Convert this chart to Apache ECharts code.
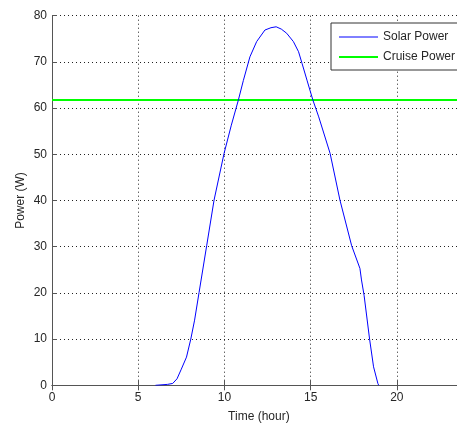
<!DOCTYPE html>
<html>
<head>
<meta charset="utf-8">
<script src="https://cdn.jsdelivr.net/npm/echarts@6/dist/echarts.min.js"></script>
<style>
  html, body { margin: 0; padding: 0; background: #fff; }
  #chart { width: 457px; height: 427px; }
</style>
</head>
<body>
<div id="chart"></div>
<script>
// Hours of the day (x) and solar panel output in watts (y)
const solarHours = [6.0, 6.7, 7.0, 7.25, 7.5, 7.8, 8.05, 8.27, 8.53, 8.97, 9.4, 9.98, 10.4, 10.81,
  11.1, 11.48, 11.87, 12.35, 12.7, 13.0, 13.3, 13.61, 14.0, 14.3, 14.5, 14.8, 15.13, 15.47,
  16.13, 16.7, 17.38, 17.86, 17.95, 18.1, 18.42, 18.65, 18.9, 18.95];
const solarPower = [0, 0.2, 0.4, 1.4, 3.5, 6.1, 10.0, 14.1, 20.1, 30.2, 40.1, 50.2, 56.3, 61.75,
  66.0, 71.1, 74.4, 76.9, 77.4, 77.6, 77.1, 76.2, 74.4, 72.2, 69.7, 65.9, 61.75, 58.1,
  50.2, 40.1, 30.2, 25.3, 22.8, 19.5, 10.0, 4.0, 0.4, 0];

// Constant power needed for cruise flight
const cruisePower = 61.75;
const dayRange = [0, 24];

const xTicks = [0, 5, 10, 15, 20];
const yTicks = [0, 10, 20, 30, 40, 50, 60, 70, 80];

const textColor = '#262626';
const axisColor = '#555';
const font = 'Liberation Sans, Arial, sans-serif';

const chart = echarts.init(document.getElementById('chart'), null, { renderer: 'canvas' });

const gridDots = { show: true, lineStyle: { color: '#222', width: 1, type: [1, 3] } };

chart.setOption({
  animation: false,
  backgroundColor: '#fff',
  // the right edge of the axes box runs past the page edge
  grid: { left: 52, top: 15.7, width: 413.8, height: 369.6, containLabel: false, outerBoundsMode: 'none' },
  legend: {
    orient: 'vertical',
    left: 331,
    top: 23,
    padding: [7, 40, 6, 7],
    itemGap: 6,
    itemWidth: 39,
    itemHeight: 14,
    backgroundColor: '#fff',
    borderColor: '#333',
    borderWidth: 1,
    itemStyle: { color: 'rgba(0,0,0,0)', borderWidth: 0, opacity: 0 },
    textStyle: { fontFamily: font, fontSize: 12, color: textColor, lineHeight: 14 },
    data: [
      { name: 'Solar Power', lineStyle: { width: 1 } },
      { name: 'Cruise Power', lineStyle: { width: 2 } }
    ]
  },
  xAxis: [{
    type: 'value',
    min: dayRange[0], max: dayRange[1], interval: 5,
    name: 'Time (hour)',
    nameLocation: 'middle',
    nameGap: 25,
    nameTextStyle: { fontFamily: font, fontSize: 12, color: textColor },
    axisLine: { show: true, onZero: false, lineStyle: { color: axisColor, width: 1 } },
    axisTick: { show: true, inside: true, length: 5, lineStyle: { color: axisColor } },
    axisLabel: {
      fontFamily: font, fontSize: 12, color: textColor, margin: 6,
      formatter: v => xTicks.includes(v) ? String(v) : ''
    },
    splitLine: gridDots
  }, {
    type: 'value',
    position: 'top',
    min: dayRange[0], max: dayRange[1], interval: 5,
    axisLine: { show: true, lineStyle: { color: axisColor, width: 1 } },
    axisTick: { show: true, inside: true, length: 5, lineStyle: { color: axisColor } },
    axisLabel: { show: false },
    splitLine: { show: false }
  }],
  yAxis: {
    type: 'value',
    min: 0, max: 80, interval: 10,
    name: 'Power (W)',
    nameLocation: 'middle',
    nameGap: 25,
    nameMoveOverlap: false,
    nameTextStyle: { fontFamily: font, fontSize: 12, color: textColor },
    axisLine: { show: true, lineStyle: { color: axisColor, width: 1 } },
    axisTick: { show: true, inside: true, length: 5, lineStyle: { color: axisColor } },
    axisLabel: {
      fontFamily: font, fontSize: 12, color: textColor, margin: 5,
      formatter: v => yTicks.includes(v) ? String(v) : ''
    },
    splitLine: gridDots
  },
  series: [{
    name: 'Solar Power',
    type: 'line',
    xAxisIndex: 0,
    data: solarHours.map((h, i) => [h, solarPower[i]]),
    showSymbol: false,
    symbol: 'none',
    color: '#0000ff',
    lineStyle: { color: '#0000ff', width: 1 },
    z: 3
  }, {
    name: 'Cruise Power',
    type: 'line',
    xAxisIndex: 0,
    data: dayRange.map(h => [h, cruisePower]),
    showSymbol: false,
    symbol: 'none',
    color: '#00ff00',
    lineStyle: { color: '#00ff00', width: 2 },
    z: 2
  }]
});
</script>
</body>
</html>
